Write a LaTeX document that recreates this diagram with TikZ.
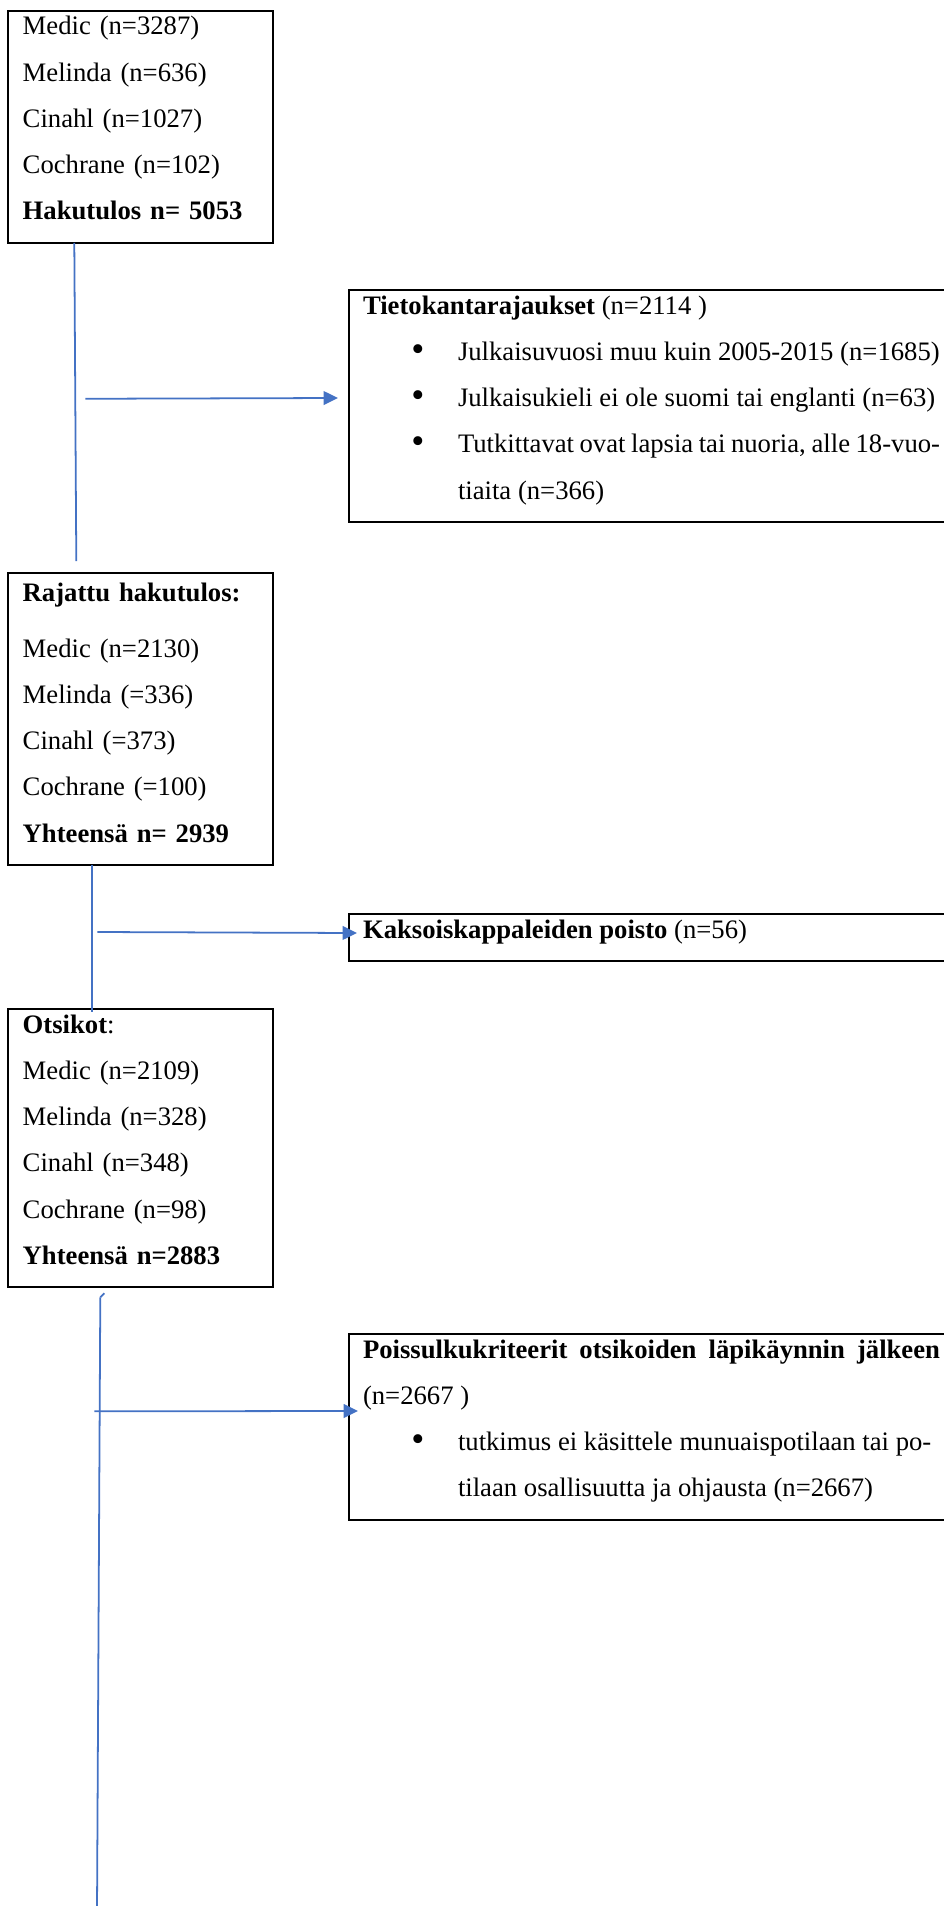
\documentclass[tikz,border=0pt]{standalone}
\usepackage{fontspec}
\setmainfont{Liberation Serif}
\usepackage{graphicx}
\usepackage{tikz}
\usetikzlibrary{arrows.meta,positioning,calc}
\definecolor{linkki}{HTML}{4472C4}
\newcommand{\kohta}{\par\hangindent=42.75pt\hangafter=1\noindent
  \makebox[42.75pt][l]{\hspace{21.8pt}\raisebox{-0.3pt}{\scalebox{1.4}{\textbullet}}}}
\newcommand{\alaraja}{\rule[-7.7pt]{0pt}{7.7pt}\par}

\begin{document}
\begin{tikzpicture}[
  x=0.45pt, y=-0.45pt, >={Triangle[length=6.5pt, width=6.2pt]},
  box/.style={draw, line width=0.9pt, anchor=north west, outer sep=0pt,
              inner xsep=6.5pt, inner ysep=2.6pt,
              font=\fontsize{12}{20.8}\selectfont,
              execute at begin node={\parindent=0pt}},
  lbox/.style={box, align=left, text width=106.1pt},
  rbox/.style={box, align=justify, text width=259.65pt, inner xsep=6.3pt},
  yhteys/.style={draw=linkki, line width=0.8pt},
  nuoli/.style={yhteys, ->}
]
\useasboundingbox (0,0) rectangle (944,1906);
\clip (0,0) rectangle (944,1906);
\node[lbox] (haku) at (8.3,10.7) {Medic (n=3287)\\ Melinda (n=636)\\ Cinahl (n=1027)\\
  Cochrane (n=102)\\ \textbf{Hakutulos n= 5053}\alaraja};
\node[rbox] (rajaus) at (349,290) {\textbf{Tietokantarajaukset} (n=2114 )
  \kohta \mbox{Julkaisuvuosi muu kuin 2005-2015 (n=1685)}
  \kohta Julkaisukieli ei ole suomi tai englanti (n=63)
  \kohta Tutkittavat ovat lapsia tai nuoria, alle 18-vuo-\newline tiaita (n=366)\alaraja};
\node[lbox] (rajattu) at (8.3,573) {\rule{0pt}{10pt}\textbf{Rajattu hakutulos:}\\[4.5pt]
  Medic (n=2130)\\ Melinda (=336)\\ Cinahl (=373)\\ Cochrane (=100)\\
  \textbf{Yhteensä n= 2939}\alaraja};
\node[rbox] (kaksois) at (349,914) {\textbf{Kaksoiskappaleiden poisto} (n=56)\alaraja};
\node[lbox] (otsikot) at (8.3,1009) {\textbf{Otsikot}:\\ Medic (n=2109)\\ Melinda (n=328)\\
  Cinahl (n=348)\\ Cochrane (n=98)\\ \textbf{Yhteensä n=2883}\alaraja};
\node[rbox] (poissulku) at (349,1334) {\textbf{Poissulkukriteerit otsikoiden läpikäynnin jälkeen}\linebreak (n=2667 )
  \kohta tutkimus ei käsittele munuaispotilaan tai po-\newline tilaan osallisuutta ja ohjausta (n=2667)\alaraja};

\coordinate (h1) at ($(haku.south west)+(77,156)$);
\coordinate (h2) at ($(rajattu.south west)+(89,67)$);
\coordinate (alku) at ($(otsikot.south west)+(92,10)$);
\coordinate (h3) at ($(otsikot.south west)+(86,124)$);
\coordinate (loppu) at (97,1912);

\draw[yhteys] ($(haku.south west)+(66,0)$) -- ($(rajattu.north west)+(68,-12)$);
\draw[nuoli] (h1) -- ($(rajaus.north west)+(-11,108)$);
\draw[yhteys] ($(rajattu.south west)+(84,0)$) -- ($(otsikot.north west)+(84,3)$);
\draw[nuoli] (h2) -- ($(kaksois.north west)+(8,19)$);
\draw[yhteys] (alku) -- (loppu);
\draw[yhteys] (alku) -- ++(4,-4);
\draw[nuoli] (h3) -- ($(poissulku.north west)+(9,77)$);
\end{tikzpicture}
\end{document}
